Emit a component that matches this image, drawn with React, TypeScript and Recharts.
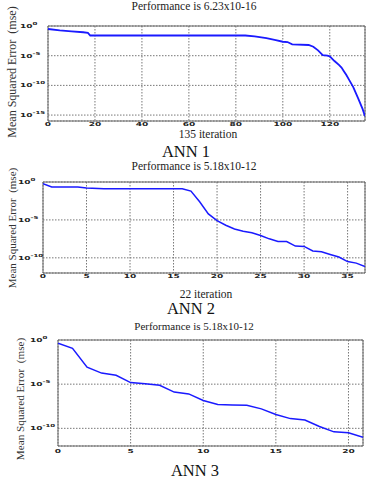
import React from 'react';
import { LineChart, Line, XAxis, YAxis, CartesianGrid, ReferenceArea } from 'recharts';

// ---------- data ----------
const ann1Iterations = [0, 5, 10, 15, 17, 18, 84, 88, 93, 97, 100, 102, 104, 111, 113, 115, 117, 119, 120, 122, 124, 125, 126, 127, 128, 130, 132, 134, 135];
const ann1Mse = [3.16e-1, 1.78e-1, 1.26e-1, 8.9e-2, 7.1e-2, 2.5e-2, 2.5e-2, 1.78e-2, 8.9e-3, 4.0e-3, 2.24e-3, 2.0e-3, 7.9e-4, 6.3e-4, 3.16e-4, 7.9e-5, 1.26e-5, 1.0e-5, 7.9e-6, 1.26e-6, 2.5e-7, 1.0e-7, 2.5e-8, 6.3e-9, 1.26e-9, 5.0e-11, 7.9e-13, 1.0e-14, 6.23e-16];

const ann2Iterations = [0, 1, 4, 5, 7, 16, 17, 18, 19, 20, 21, 22, 23, 24, 25, 26, 27, 28, 29, 30, 31, 32, 33, 34, 35, 36, 37];
const ann2Mse = [6.2e-1, 2.2e-1, 2.2e-1, 1.6e-1, 1.3e-1, 1.3e-1, 6.3e-2, 2.5e-3, 6.3e-5, 7.9e-6, 2.0e-6, 6.3e-7, 3.2e-7, 2.0e-7, 8.9e-8, 3.2e-8, 1.4e-8, 1.4e-8, 3.5e-9, 3.2e-9, 7.9e-10, 6.3e-10, 2.8e-10, 1.26e-10, 3.2e-11, 2.0e-11, 7.1e-12];

const ann3Iterations = [0, 1, 2, 3, 4, 5, 6, 7, 8, 9, 10, 11, 12, 13, 14, 15, 16, 17, 18, 19, 20, 21];
const ann3Mse = [4.3e-1, 1.15e-1, 8.5e-4, 1.8e-4, 1.0e-4, 1.5e-5, 1.1e-5, 7.4e-6, 1.26e-6, 7.9e-7, 1.4e-7, 5.0e-8, 4.3e-8, 4.0e-8, 1.6e-8, 3.7e-9, 1.26e-9, 8.9e-10, 1.6e-10, 4.0e-11, 3.2e-11, 1.0e-11];

const yTicks1 = [1, 1e-5, 1e-10, 1e-15];
const yTicks23 = [1, 1e-5, 1e-10];
const xTicks1 = [0, 20, 40, 60, 80, 100, 120];
const xTicks2 = [0, 5, 10, 15, 20, 25, 30, 35];
const xTicks3 = [0, 5, 10, 15, 20];

const titles = ['Performance is 6.23x10-16', 'Performance is 5.18x10-12', 'Performance is 5.18x10-12'];
const iterationLabels = ['135 iteration', '22 iteration'];
const annLabels = ['ANN 1', 'ANN 2', 'ANN 3'];
const yLabel = 'Mean Squared Error\u00a0\u00a0(mse)';

const build = (xs: number[], ys: number[]) => xs.map((it, i) => ({ it, mse: ys[i] }));
const data1 = build(ann1Iterations, ann1Mse);
const data2 = build(ann2Iterations, ann2Mse);
const data3 = build(ann3Iterations, ann3Mse);

const SERIF = '"Liberation Serif", "Times New Roman", serif';
const TICKFONT = '"DejaVu Sans", Arial, sans-serif';

const makeYTick = (offset: number) => (props: any) => {
  const { x, y, payload } = props;
  const exp = Math.round(Math.log10(payload.value));
  return (
    <g transform={`translate(${x - offset},${y}) scale(1,0.6)`}>
      <text x={0} y={3.3} fontFamily={TICKFONT} fontWeight="bold" fontSize={9} fill="#222" textAnchor="start">
        10
        <tspan dy={-5} fontSize={7}>{exp}</tspan>
      </text>
    </g>
  );
};

const makeXTick = (dy: number) => (props: any) => {
  const { x, y, payload } = props;
  return (
    <g transform={`translate(${x},${y + dy}) scale(1,0.6)`}>
      <text x={0} y={3.3} fontFamily={TICKFONT} fontWeight="bold" fontSize={9} fill="#222" textAnchor="middle">
        {payload.value}
      </text>
    </g>
  );
};

type PanelProps = {
  data: { it: number; mse: number }[];
  top: number;
  height: number;
  margin: { top: number; right: number; bottom: number; left: number };
  yWidth: number;
  xAxisHeight: number;
  xMax: number;
  yMin: number;
  xTicks: number[];
  yTicks: number[];
  yTickOffset: number;
  xTickDy: number;
  strokeWidth: number;
};

function Panel(p: PanelProps) {
  return (
    <div style={{ position: 'absolute', left: 0, top: p.top, width: 372, height: p.height }}>
      <LineChart width={372} height={p.height} data={p.data} margin={p.margin}>
        <CartesianGrid stroke="#777" strokeDasharray="1.5 1.5" strokeWidth={1} />
        <XAxis
          dataKey="it"
          type="number"
          domain={[0, p.xMax]}
          ticks={p.xTicks}
          height={p.xAxisHeight}
          axisLine={false}
          tickLine={false}
          tickSize={0}
          tickMargin={0}
          allowDataOverflow
          interval={0}
          tick={makeXTick(p.xTickDy)}
        />
        <YAxis
          dataKey="mse"
          type="number"
          scale="log"
          domain={[p.yMin, 1]}
          ticks={p.yTicks}
          width={p.yWidth}
          axisLine={false}
          tickLine={false}
          tickSize={0}
          tickMargin={0}
          allowDataOverflow
          interval={0}
          tick={makeYTick(p.yTickOffset)}
        />
        <ReferenceArea x1={0} x2={p.xMax} y1={p.yMin} y2={1} fill="none" stroke="#666" strokeWidth={1} ifOverflow="visible" />
        <Line type="linear" dataKey="mse" stroke="#1a1aff" strokeWidth={p.strokeWidth} dot={false} isAnimationActive={false} />
      </LineChart>
    </div>
  );
}

export default function App() {
  return (
    <div style={{ position: 'absolute', left: 0, top: 0, width: 372, height: 480, background: '#fff', overflow: 'hidden' }}>
      <Panel
        data={data1}
        top={0}
        height={140}
        margin={{ top: 26, right: 7, bottom: 0, left: 0 }}
        yWidth={48}
        xAxisHeight={19}
        xMax={135}
        yMin={1e-16}
        xTicks={xTicks1}
        yTicks={yTicks1}
        yTickOffset={28}
        xTickDy={3.4}
        strokeWidth={1.8}
      />
      <Panel
        data={data2}
        top={155}
        height={138}
        margin={{ top: 27, right: 7, bottom: 0, left: 0 }}
        yWidth={43}
        xAxisHeight={20}
        xMax={37}
        yMin={1e-12}
        xTicks={xTicks2}
        yTicks={yTicks23}
        yTickOffset={25}
        xTickDy={3.4}
        strokeWidth={1.5}
      />
      <Panel
        data={data3}
        top={315}
        height={151}
        margin={{ top: 25, right: 9, bottom: 0, left: 0 }}
        yWidth={58}
        xAxisHeight={20}
        xMax={21}
        yMin={1e-12}
        xTicks={xTicks3}
        yTicks={yTicks23}
        yTickOffset={28}
        xTickDy={4.7}
        strokeWidth={1.5}
      />
      <svg width={372} height={480} style={{ position: 'absolute', left: 0, top: 0, pointerEvents: 'none' }}>
        <g fontFamily={SERIF} fill="#222">
          <text x={194} y={9.5} fontSize={11.5} textAnchor="middle">{titles[0]}</text>
          <text x={194} y={170} fontSize={11.5} textAnchor="middle">{titles[1]}</text>
          <text x={194} y={330} fontSize={11} textAnchor="middle">{titles[2]}</text>
          <text x={208} y={138} fontSize={11.5} textAnchor="middle">{iterationLabels[0]}</text>
          <text x={206} y={298} fontSize={11.5} textAnchor="middle">{iterationLabels[1]}</text>
          <text x={186} y={157} fontSize={16.5} textAnchor="middle" fill="#111">{annLabels[0]}</text>
          <text x={191} y={314} fontSize={16.5} textAnchor="middle" fill="#111">{annLabels[1]}</text>
          <text x={195} y={476} fontSize={16.5} textAnchor="middle" fill="#111">{annLabels[2]}</text>
          <text transform="translate(16,72) rotate(-90)" fontSize={12} textAnchor="middle" fill="#333">{yLabel}</text>
          <text transform="translate(16,228) rotate(-90)" fontSize={11} textAnchor="middle" fill="#333">{yLabel}</text>
          <text transform="translate(24,399) rotate(-90)" fontSize={11.2} textAnchor="middle" fill="#333">{yLabel}</text>
        </g>
      </svg>
    </div>
  );
}
